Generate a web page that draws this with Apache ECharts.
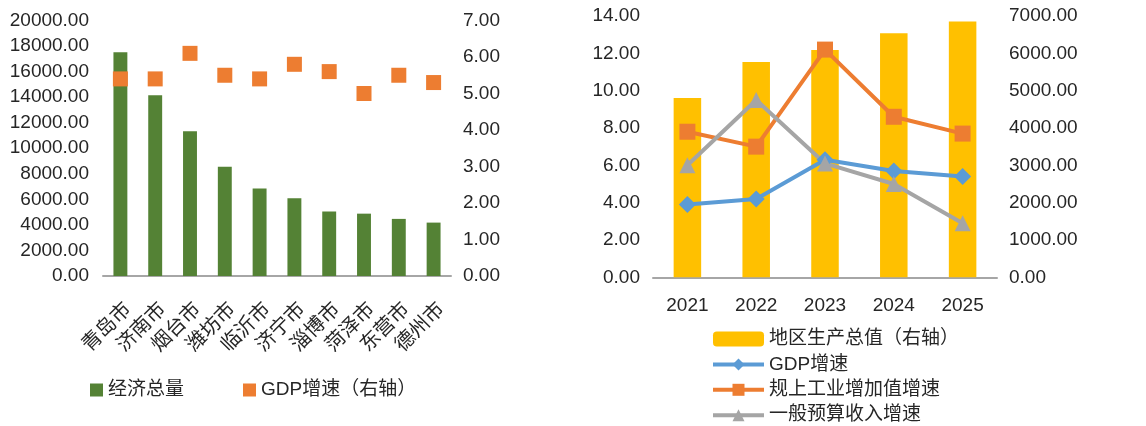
<!DOCTYPE html>
<html>
<head>
<meta charset="utf-8">
<script src="https://cdn.jsdelivr.net/npm/echarts@6/dist/echarts.min.js"></script>
<style>
  html, body { margin: 0; padding: 0; background: #fff; }
  #chart { width: 1146px; height: 426px; }
</style>
</head>
<body>
<div id="chart"></div>
<script>
// Left panel: city economic totals with GDP growth on the right axis
const cities = ['青岛市', '济南市', '烟台市', '潍坊市', '临沂市', '济宁市', '淄博市', '菏泽市', '东营市', '德州市'];
const cityTotal = [17520, 14150, 11330, 8560, 6840, 6080, 5040, 4880, 4470, 4180];
const cityGrowth = [5.4, 5.4, 6.1, 5.5, 5.4, 5.8, 5.6, 5.0, 5.5, 5.3];

// Right panel: yearly regional GDP (right axis) and growth rates (left axis)
const years = ['2021', '2022', '2023', '2024', '2025'];
const regionGdp = [4800, 5770, 6090, 6540, 6850];
const gdpGrowth = [3.9, 4.2, 6.3, 5.7, 5.4];
const industryGrowth = [7.8, 7.0, 12.2, 8.6, 7.7];
const budgetGrowth = [6.0, 9.5, 6.1, 5.0, 2.9];

const FONT = '"Liberation Sans", "Noto Sans CJK SC", sans-serif';
const TXT = '#262626';
const AXIS = '#A6A6A6';

const twoDec = v => v.toFixed(2);

function valueAxis(gridIndex, position, max, interval, margin) {
  return {
    type: 'value', gridIndex, position, min: 0, max, interval,
    axisLine: { show: false }, axisTick: { show: false },
    splitLine: { show: false },
    axisLabel: { color: TXT, fontSize: 19, fontFamily: FONT, margin, formatter: twoDec }
  };
}

const chart = echarts.init(document.getElementById('chart'), null, { renderer: 'canvas' });

chart.setOption({
  animation: false,
  backgroundColor: '#fff',
  textStyle: { fontFamily: FONT },
  grid: [
    { left: 103, right: 695, top: 20.5, bottom: 150 },
    { left: 653, right: 149, top: 16, bottom: 148.7 }
  ],
  xAxis: [
    {
      type: 'category', gridIndex: 0, data: cities,
      axisLine: { lineStyle: { color: AXIS, width: 2 } },
      axisTick: { show: false },
      axisLabel: {
        color: TXT, fontSize: 20, fontFamily: FONT, rotate: 45,
        margin: 38, interval: 0, padding: [0, -11, 0, 0]
      }
    },
    {
      type: 'category', gridIndex: 1, data: years,
      axisLine: { lineStyle: { color: AXIS, width: 2 } },
      axisTick: { show: false },
      axisLabel: { color: TXT, fontSize: 19, fontFamily: FONT, margin: 19 }
    }
  ],
  yAxis: [
    valueAxis(0, 'left', 20000, 2000, 14),
    valueAxis(0, 'right', 7, 1, 12),
    valueAxis(1, 'left', 14, 2, 13),
    valueAxis(1, 'right', 7000, 1000, 12)
  ],
  legend: [
    {
      left: 90, top: 380, orient: 'horizontal', padding: 0,
      itemWidth: 13, itemHeight: 13, itemGap: 59,
      textStyle: { color: TXT, fontSize: 19, fontFamily: FONT, lineHeight: 20 },
      data: [
        { name: '经济总量', icon: 'rect' },
        { name: 'GDP增速（右轴）', icon: 'rect' }
      ]
    },
    {
      left: 711, top: 329, orient: 'vertical', padding: 0, height: 105,
      itemWidth: 51, itemHeight: 15, itemGap: 5.4,
      lineStyle: { width: 4 },
      textStyle: { color: TXT, fontSize: 19, fontFamily: FONT, lineHeight: 20 },
      data: ['地区生产总值（右轴）', 'GDP增速', '规上工业增加值增速', '一般预算收入增速']
    }
  ],
  series: [
    {
      name: '经济总量', type: 'bar', xAxisIndex: 0, yAxisIndex: 0,
      data: cityTotal, barWidth: '40%',
      itemStyle: { color: '#548235' }
    },
    {
      name: 'GDP增速（右轴）', type: 'scatter', xAxisIndex: 0, yAxisIndex: 1,
      data: cityGrowth, symbol: 'rect', symbolSize: 15,
      itemStyle: { color: '#ED7D31', opacity: 1 }
    },
    {
      name: '地区生产总值（右轴）', type: 'bar', xAxisIndex: 1, yAxisIndex: 3,
      data: regionGdp, barWidth: '40%',
      itemStyle: { color: '#FFC000' }
    },
    {
      name: 'GDP增速', type: 'line', xAxisIndex: 1, yAxisIndex: 2,
      data: gdpGrowth, symbol: 'diamond', symbolSize: 17,
      lineStyle: { color: '#5B9BD5', width: 4 },
      itemStyle: { color: '#5B9BD5' }
    },
    {
      name: '规上工业增加值增速', type: 'line', xAxisIndex: 1, yAxisIndex: 2,
      data: industryGrowth, symbol: 'rect', symbolSize: 16,
      lineStyle: { color: '#ED7D31', width: 4 },
      itemStyle: { color: '#ED7D31' }
    },
    {
      name: '一般预算收入增速', type: 'line', xAxisIndex: 1, yAxisIndex: 2,
      data: budgetGrowth, symbol: 'triangle', symbolSize: 16,
      lineStyle: { color: '#A5A5A5', width: 4 },
      itemStyle: { color: '#A5A5A5' }
    }
  ]
});
</script>
</body>
</html>
